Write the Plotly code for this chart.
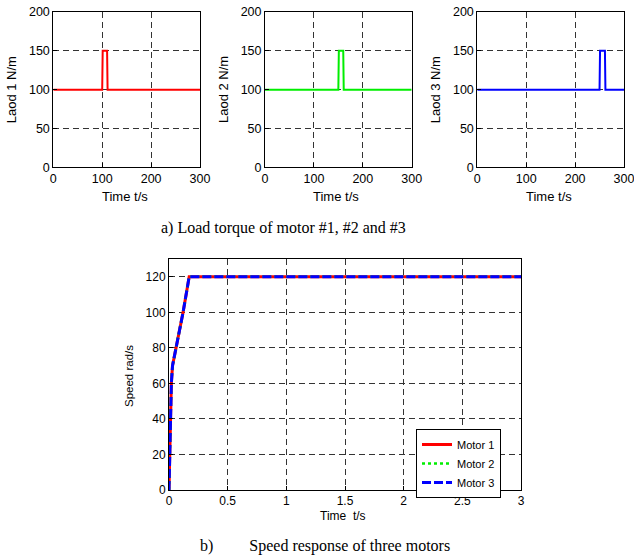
import plotly.graph_objects as go

W, H = 634, 559

# ---------------- data ----------------
load_time_1 = [0, 100, 101, 110, 111, 300]
load_1 = [100, 100, 150, 150, 100, 100]
load_time_2 = [0, 150, 151, 160, 161, 300]
load_2 = [100, 100, 150, 150, 100, 100]
load_time_3 = [0, 250, 251, 261, 262, 300]
load_3 = [100, 100, 150, 150, 100, 100]

speed_time = [0, 0.005, 0.012, 0.02, 0.03, 0.045, 0.06, 0.09, 0.12, 0.172, 3.0]
speed_motor1 = [0, 20, 40, 60, 70, 76, 80, 90, 100, 120, 120]
speed_motor2 = [0, 20, 40, 60, 70, 76, 80, 90, 100, 120, 120]
speed_motor3 = [0, 20, 40, 60, 70, 76, 80, 90, 100, 120, 120]

load_ylabels = ["Laod 1 N/m", "Laod 2 N/m", "Laod 3 N/m"]
top_xticks = [0, 100, 200, 300]
top_yticks = [0, 50, 100, 150, 200]
bot_xticks = [0, 0.5, 1, 1.5, 2, 2.5, 3]
bot_yticks = [0, 20, 40, 60, 80, 100, 120]

# ---------------- layout helpers ----------------
def px_x(p):
    return p / W

def px_y(p):
    return 1 - p / H

SANS = "Liberation Sans, Arial, Helvetica, sans-serif"
SERIF = "Liberation Serif, Times New Roman, serif"
GRID = dict(showgrid=True, gridcolor="#333333", gridwidth=1, griddash="6px,4px",
            showline=True, linecolor="black", linewidth=1, mirror=True,
            ticks="inside", ticklen=4, tickcolor="black", zeroline=False,
            automargin=False, ticklabeloverflow="allow")

fig = go.Figure()

top_panels = [(53.3, 200.0), (265.0, 411.7), (477.3, 624.0)]
top_y = (12.0, 167.3)
colors = ["#ff0000", "#00ee00", "#0000ff"]
loads = [(load_time_1, load_1), (load_time_2, load_2), (load_time_3, load_3)]

layout = dict(width=W, height=H, margin=dict(l=0, r=0, t=0, b=0, pad=0, autoexpand=False),
              paper_bgcolor="white", plot_bgcolor="white", showlegend=True)
annotations = []

for i, ((x0, x1), (t, v), c, lab) in enumerate(zip(top_panels, loads, colors, load_ylabels)):
    n = i + 1
    xa = "xaxis" if n == 1 else f"xaxis{n}"
    ya = "yaxis" if n == 1 else f"yaxis{n}"
    fig.add_trace(go.Scatter(x=t, y=v, mode="lines", line=dict(color=c, width=2),
                             xaxis=f"x{n}" if n > 1 else "x", yaxis=f"y{n}" if n > 1 else "y",
                             showlegend=False))
    layout[xa] = dict(domain=[px_x(x0), px_x(x1)], range=[0, 300], tickvals=top_xticks,
                      anchor=f"y{n}" if n > 1 else "y",
                      tickfont=dict(family=SANS, size=12.5, color="black"), **GRID)
    layout[ya] = dict(domain=[px_y(top_y[1]), px_y(top_y[0])], range=[0, 200], tickvals=top_yticks,
                      anchor=f"x{n}" if n > 1 else "x",
                      tickfont=dict(family=SANS, size=12.5, color="black"), **GRID)
    annotations.append(dict(text=lab, x=px_x(x0 - 41), y=px_y(90), xref="paper", yref="paper",
                            textangle=-90, showarrow=False, xanchor="center", yanchor="middle",
                            font=dict(family=SANS, size=13, color="black")))
    annotations.append(dict(text="Time t/s", x=px_x((x0 + x1) / 2 - 2), y=px_y(196), xref="paper",
                            yref="paper", showarrow=False, xanchor="center", yanchor="middle",
                            font=dict(family=SANS, size=13, color="black")))

# bottom panel
bx0, bx1, by0, by1 = 169.0, 521.0, 259.0, 490.0
fig.add_trace(go.Scatter(x=speed_time, y=speed_motor1, mode="lines", name="Motor 1",
                         line=dict(color="#ff0000", width=3), xaxis="x4", yaxis="y4"))
fig.add_trace(go.Scatter(x=speed_time, y=speed_motor2, mode="lines", name="Motor 2",
                         line=dict(color="#00ee00", width=2.5, dash="dot"), xaxis="x4", yaxis="y4"))
fig.add_trace(go.Scatter(x=speed_time, y=speed_motor3, mode="lines", name="Motor 3",
                         line=dict(color="#0000ff", width=3, dash="9px,3px"), xaxis="x4", yaxis="y4"))

layout["xaxis4"] = dict(domain=[px_x(bx0), px_x(bx1)], range=[0, 3], tickvals=bot_xticks,
                        ticktext=[str(v) for v in bot_xticks], anchor="y4",
                        tickfont=dict(family=SANS, size=12, color="black"), **GRID)
layout["yaxis4"] = dict(domain=[px_y(by1), px_y(by0)], range=[0, 130], tickvals=bot_yticks,
                        anchor="x4", tickfont=dict(family=SANS, size=12, color="black"), **GRID)
annotations.append(dict(text="Speed rad/s", x=px_x(129), y=px_y(376), xref="paper", yref="paper",
                        textangle=-90, showarrow=False, xanchor="center", yanchor="middle",
                        font=dict(family=SANS, size=11.5, color="black")))
annotations.append(dict(text="Time\u00a0 t/s", x=px_x(343), y=px_y(516), xref="paper", yref="paper",
                        showarrow=False, xanchor="center", yanchor="middle",
                        font=dict(family=SANS, size=12, color="black")))

# captions
annotations.append(dict(text="a) Load torque of motor #1, #2 and #3", x=px_x(283), y=px_y(228),
                        xref="paper", yref="paper", showarrow=False, xanchor="center",
                        yanchor="middle", font=dict(family=SERIF, size=16, color="black")))
annotations.append(dict(text="b)" + "\u00a0" * 9 + "Speed response of three motors",
                        x=px_x(198), y=px_y(546), xref="paper", yref="paper", showarrow=False,
                        xanchor="left", yanchor="middle",
                        font=dict(family=SERIF, size=16, color="black")))

layout["annotations"] = annotations
layout["legend"] = dict(x=px_x(416), y=px_y(429), xanchor="left", yanchor="top",
                        bgcolor="white", bordercolor="black", borderwidth=1,
                        font=dict(family=SANS, size=11, color="black"),
                        tracegroupgap=0, itemwidth=30)
fig.update_layout(**layout)

fig.write_html("out.html", config={"displayModeBar": False},
               post_script="document.body.style.margin='0px';document.body.style.padding='0px';")
